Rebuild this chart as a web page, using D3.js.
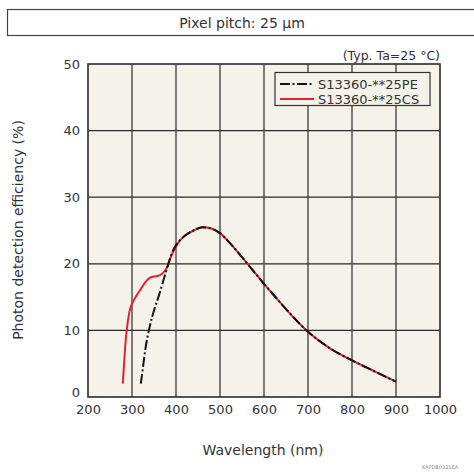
<!DOCTYPE html>
<html>
<head>
<meta charset="utf-8">
<script src="https://cdn.jsdelivr.net/npm/d3@7"></script>
<style>
  body { margin: 0; background: #fff; }
  text { font-family: "DejaVu Sans", Verdana, sans-serif; fill: #333; }
</style>
</head>
<body>
<div id="chart"></div>
<script>
// wavelength (nm) and photon detection efficiency (%)
const wlPE = [320, 325, 330, 340, 350, 360, 370, 380, 390, 400, 410, 420, 440, 460, 480, 500, 520, 550, 580, 600, 630, 650, 700, 750, 800, 850, 900];
const pdePE = [2, 4.5, 7, 10.5, 13, 15, 17.2, 19.4, 21.5, 22.8, 23.6, 24.2, 25.0, 25.5, 25.3, 24.6, 23.3, 21.0, 18.6, 17.0, 14.7, 13.2, 9.8, 7.3, 5.5, 3.9, 2.3];
const wlCS = [279, 282, 285, 288, 292, 296, 300, 310, 320, 330, 340, 350, 360, 370, 380, 390, 400, 410, 420, 440, 460, 480, 500, 520, 550, 580, 600, 630, 650, 700, 750, 800, 850, 900];
const pdeCS = [2, 5, 8, 10, 12, 13.3, 14, 15.2, 16.2, 17.2, 17.9, 18.1, 18.2, 18.6, 19.5, 21.3, 22.6, 23.6, 24.2, 25.0, 25.5, 25.3, 24.6, 23.3, 21.0, 18.6, 17.0, 14.7, 13.2, 9.8, 7.3, 5.5, 3.9, 2.3];
const seriesNames = ["S13360-**25PE", "S13360-**25CS"];
const xTicks = [200, 300, 400, 500, 600, 700, 800, 900, 1000];
const yTicks = [0, 10, 20, 30, 40, 50];

const width = 474, height = 474;
const svg = d3.select("#chart").append("svg")
  .attr("width", width).attr("height", height);

// header box
svg.append("rect").attr("x", 7.5).attr("y", 9.5).attr("width", 480).attr("height", 26)
  .attr("fill", "#fff").attr("stroke", "#444").attr("stroke-width", 1.2);
svg.append("text").attr("x", 242).attr("y", 27.5).attr("text-anchor", "middle")
  .style("font-size", "14px").text("Pixel pitch: 25 µm");

svg.append("text").attr("x", 440).attr("y", 60).attr("text-anchor", "end")
  .style("font-size", "12.5px").text("(Typ. Ta=25 °C)");

const x = d3.scaleLinear().domain([200, 1000]).range([88, 440]);
const y = d3.scaleLinear().domain([0, 50]).range([397, 64]);

// plot background
svg.append("rect").attr("x", x(200)).attr("y", y(50))
  .attr("width", x(1000) - x(200)).attr("height", y(0) - y(50))
  .attr("fill", "#f4f2e9");

// grid
svg.append("g").selectAll("line").data(xTicks.slice(1, -1)).enter().append("line")
  .attr("x1", d => x(d)).attr("x2", d => x(d)).attr("y1", y(0)).attr("y2", y(50))
  .attr("stroke", "#2b2b2b").attr("stroke-width", 1.2);
svg.append("g").selectAll("line").data(yTicks.slice(1, -1)).enter().append("line")
  .attr("y1", d => y(d)).attr("y2", d => y(d)).attr("x1", x(200)).attr("x2", x(1000))
  .attr("stroke", "#2b2b2b").attr("stroke-width", 1.2);

// frame
svg.append("rect").attr("x", x(200)).attr("y", y(50))
  .attr("width", x(1000) - x(200)).attr("height", y(0) - y(50))
  .attr("fill", "none").attr("stroke", "#2b2b2b").attr("stroke-width", 1.6);

// axes (labels only)
const xAxis = svg.append("g").attr("transform", "translate(0," + y(0) + ")")
  .call(d3.axisBottom(x).tickValues(xTicks).tickSize(0).tickPadding(8).tickFormat(d3.format("d")));
const yAxis = svg.append("g").attr("transform", "translate(" + x(200) + ",0)")
  .call(d3.axisLeft(y).tickValues(yTicks).tickSize(0).tickPadding(8));
[xAxis, yAxis].forEach(a => {
  a.select(".domain").remove();
  a.selectAll("text").style("font-size", "13px").style("font-family", "DejaVu Sans, sans-serif").attr("fill", "#333");
});
// the zero label sits a little above the bottom line, as in the original
yAxis.selectAll(".tick").filter(d => d === 0).select("text").attr("y", -5);

svg.append("text").attr("x", 263).attr("y", 455).attr("text-anchor", "middle")
  .style("font-size", "14px").text("Wavelength (nm)");
svg.append("text").attr("transform", "translate(23,230) rotate(-90)").attr("text-anchor", "middle")
  .style("font-size", "14px").text("Photon detection efficiency (%)");
svg.append("text").attr("x", 440).attr("y", 469).attr("text-anchor", "middle")
  .style("font-size", "5px").style("fill", "#888").text("KAPDB0321EA");

// curves
const line = d3.line().x(d => x(d[0])).y(d => y(d[1])).curve(d3.curveMonotoneX);
svg.append("path").datum(d3.zip(wlCS, pdeCS)).attr("d", line)
  .attr("fill", "none").attr("stroke", "#e5222e").attr("stroke-width", 2);
svg.append("path").datum(d3.zip(wlPE, pdePE)).attr("d", line)
  .attr("fill", "none").attr("stroke", "#111").attr("stroke-width", 2)
  .attr("stroke-dasharray", "10,2.5,2,2.5");

// legend
const lg = svg.append("g");
lg.append("rect").attr("x", 275).attr("y", 72.5).attr("width", 155).attr("height", 33)
  .attr("fill", "#f4f2e9").attr("stroke", "#333").attr("stroke-width", 1.2);
const legendStyles = [{c: "#111", dash: "10,2.5,2,2.5"}, {c: "#e5222e", dash: null}];
seriesNames.forEach((name, i) => {
  const ly = 84 + i * 15;
  lg.append("line").attr("x1", 280).attr("x2", 314).attr("y1", ly).attr("y2", ly)
    .attr("stroke", legendStyles[i].c).attr("stroke-width", 2)
    .attr("stroke-dasharray", legendStyles[i].dash);
  lg.append("text").attr("x", 318).attr("y", ly + 4.5).style("font-size", "13px").text(name);
});
</script>
</body>
</html>
